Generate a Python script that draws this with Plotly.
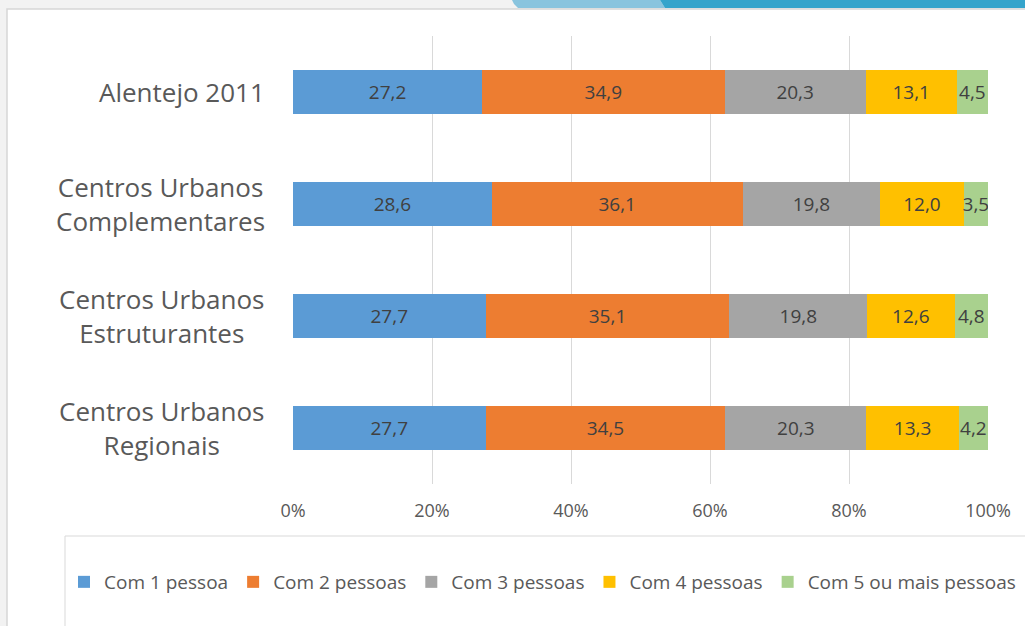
import plotly.graph_objects as go

W, H = 1025, 626

categories = ["Alentejo 2011", "Centros Urbanos<br>Complementares",
              "Centros Urbanos<br>Estruturantes", "Centros Urbanos<br>Regionais"]
series_names = ["Com 1 pessoa", "Com 2 pessoas", "Com 3 pessoas",
                "Com 4 pessoas", "Com 5 ou mais pessoas"]
com1 = [27.2, 28.6, 27.7, 27.7]
com2 = [34.9, 36.1, 35.1, 34.5]
com3 = [20.3, 19.8, 19.8, 20.3]
com4 = [13.1, 12.0, 12.6, 13.3]
com5 = [4.5, 3.5, 4.8, 4.2]
tick_vals = [0, 20, 40, 60, 80, 100]
tick_text = ["0%", "20%", "40%", "60%", "80%", "100%"]

colors = ["#5B9BD5", "#ED7D31", "#A5A5A5", "#FFC000", "#A9D18E"]
FONT = "Open Sans"


def px(x):
    return x / W


def py(y):
    return 1 - y / H


def path(points):
    s = "M " + " L ".join(f"{px(x):.5f},{py(y):.5f}" for x, y in points) + " Z"
    return s


fig = go.Figure()
for name, vals, col in zip(series_names, [com1, com2, com3, com4, com5], colors):
    fig.add_trace(go.Bar(
        y=categories, x=vals, name=name, orientation="h",
        marker=dict(color=col, line=dict(width=0)),
        texttemplate="%{x:.1f}", textposition="inside", textangle=0,
        insidetextanchor="middle", constraintext="none",
        textfont=dict(family=FONT, size=19, color="#404040"),
        hoverinfo="x+name",
    ))

shapes = [
    # white chart panel
    dict(type="rect", xref="paper", yref="paper", x0=px(7), x1=px(1040),
         y0=py(660), y1=py(9), fillcolor="white",
         line=dict(color="#d6d6d6", width=1.5), layer="below"),
    # legend box
    dict(type="rect", xref="paper", yref="paper", x0=px(65), x1=px(1040),
         y0=py(660), y1=py(536), fillcolor="white",
         line=dict(color="#d9d9d9", width=1), layer="below"),
    # decorative top bands
    dict(type="path", xref="paper", yref="paper",
         path=path([(512, 0), (514, 4), (518, 8), (665, 8), (660, 0)]),
         fillcolor="#89C4DE", line=dict(width=0), layer="below"),
    dict(type="path", xref="paper", yref="paper",
         path=path([(660, 0), (665, 8), (1030, 8), (1030, 0)]),
         fillcolor="#35A4CB", line=dict(width=0), layer="below"),
]

annotations = []
for c in categories:
    annotations.append(dict(
        x=px(267), xref="paper", y=c, yref="y", text=c,
        xanchor="right", yanchor="middle", align="center", showarrow=False,
        font=dict(family=FONT, size=26, color="#595959"),
    ))

fig.update_layout(
    width=W, height=H,
    margin=dict(l=0, r=0, t=0, b=0),
    paper_bgcolor="#f2f2f2",
    plot_bgcolor="rgba(0,0,0,0)",
    barmode="stack",
    bargap=0.61,
    separators=",.",
    uniformtext=dict(minsize=19, mode="show"),
    font=dict(family=FONT, color="#595959"),
    xaxis=dict(
        domain=[px(293), px(988)], range=[0, 100],
        tickvals=tick_vals, ticktext=tick_text,
        showgrid=True, gridcolor="#d9d9d9", gridwidth=1,
        zeroline=False, showline=False, ticks="",
        ticklabelstandoff=14,
        tickfont=dict(family=FONT, size=18, color="#595959"),
        automargin=False, fixedrange=True,
    ),
    yaxis=dict(
        domain=[py(484), py(36)],
        categoryorder="array", categoryarray=categories,
        autorange="reversed", showticklabels=False,
        showgrid=False, zeroline=False, showline=False, ticks="",
        automargin=False, fixedrange=True,
    ),
    legend=dict(
        orientation="h", x=px(64), xanchor="left", y=py(582), yanchor="middle",
        font=dict(family=FONT, size=19, color="#595959"),
        bgcolor="rgba(0,0,0,0)", borderwidth=0,
        traceorder="normal", itemwidth=30,
    ),
    shapes=shapes,
    annotations=annotations,
    showlegend=True,
)

fig.write_html(
    "out.html",
    config={"displayModeBar": False},
    post_script="document.body.style.margin='0px';"
                "document.body.style.background='#f2f2f2';",
)
